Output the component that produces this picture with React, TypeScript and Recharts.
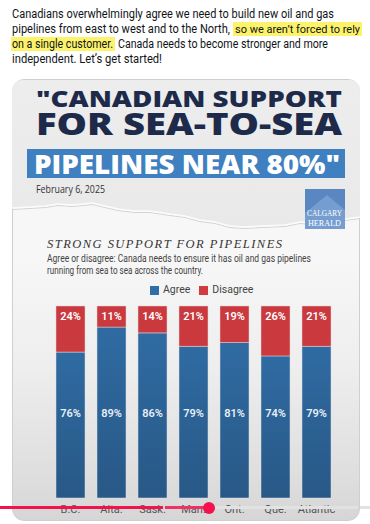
import React from "react";
import { Bar, BarChart, LabelList, Legend, XAxis, YAxis } from "recharts";

const regions = ["B.C.", "Alta.", "Sask.", "Man.", "Ont.", "Que.", "Atlantic"];
const agree = [76, 89, 86, 79, 81, 74, 79];
const disagree = [24, 11, 14, 21, 19, 26, 21];

const data = regions.map((region, i) => ({ region, agree: agree[i], disagree: disagree[i] }));

const RED = "#c9393e";
const NARROW = "'Liberation Sans Narrow', Roboto, 'Liberation Sans', sans-serif";

const tearEdge: [number, number][] = [
  [360, 217], [345, 219], [330, 221], [315, 223], [300, 222], [285, 225], [262, 226],
  [245, 227], [230, 226], [215, 222], [200, 220], [185, 216], [170, 214], [150, 211],
  [135, 211], [118, 209], [105, 206], [92, 203], [84, 204], [72, 205], [58, 204],
  [45, 206], [30, 207], [12, 208],
];

function RedLabel(props: any) {
  const { x, y, width, value } = props;
  return (
    <text x={x + width / 2} y={y + 14} textAnchor="middle" fill="#fff" fontSize={11} fontWeight={600} fontFamily={NARROW}>
      {value}%
    </text>
  );
}

function BlueLabel(props: any) {
  const { x, y, width, height, value } = props;
  return (
    <text x={x + width / 2} y={y + height - 81} textAnchor="middle" fill="#e9eff6" fontSize={11} fontWeight={600} fontFamily={NARROW}>
      {value}%
    </text>
  );
}

function LegendBox() {
  const item = (color: string, label: string, gap: number) => (
    <span style={{ display: "inline-flex", alignItems: "center", marginRight: gap }}>
      <span style={{ width: 9, height: 9, background: color, display: "inline-block", marginRight: 4 }} />
      <span style={{ fontSize: 10.5, color: "#444", fontFamily: NARROW }}>{label}</span>
    </span>
  );
  return (
    <div style={{ display: "flex", alignItems: "center", lineHeight: "12px" }}>
      {item("#2e6ea6", "Agree", 9)}
      {item("#d03a41", "Disagree", 0)}
    </div>
  );
}

export default function App() {
  const edgePts = tearEdge.map(([x, y]) => `${x},${y}`).join(" L");
  return (
    <div style={{ position: "absolute", left: 0, top: 0, width: 370, height: 524, overflow: "hidden", background: "#fff" }}>
      <div
        style={{
          position: "absolute",
          left: 12,
          top: 79,
          width: 348,
          height: 442,
          borderRadius: 12,
          border: "1px solid #cfcfcf",
          boxSizing: "border-box",
          background: "linear-gradient(to bottom, #f7f7f7 0%, #f7f7f7 40%, #eeeeee 65%, #dedede 90%, #d6d6d6 100%)",
        }}
      />
      <svg width={370} height={524} style={{ position: "absolute", left: 0, top: 0 }}>
        <rect x={233} y={22} width={129} height={14} fill="#fdf36a" />
        <rect x={11} y={37} width={104} height={14} fill="#fdf36a" />
        <g fontFamily="Roboto, 'Open Sans', sans-serif" fontSize={12} fill="#0f1419">
          <text x={12} y={17.5} textLength={322} lengthAdjust="spacingAndGlyphs">
            Canadians overwhelmingly agree we need to build new oil and gas
          </text>
          <text x={12} y={32.5} textLength={218} lengthAdjust="spacingAndGlyphs">
            pipelines from east to west and to the North,
          </text>
          <text x={235} y={32.5} fontSize={11} textLength={125} lengthAdjust="spacingAndGlyphs">
            so we aren’t forced to rely
          </text>
          <text x={12} y={47.5} textLength={101} lengthAdjust="spacingAndGlyphs">
            on a single customer.
          </text>
          <text x={118} y={47.5} textLength={210} lengthAdjust="spacingAndGlyphs">
            Canada needs to become stronger and more
          </text>
          <text x={12} y={62.5} textLength={150} lengthAdjust="spacingAndGlyphs">
            independent. Let’s get started!
          </text>
        </g>

        <defs>
          <linearGradient id="topPaper" x1="0" y1="0" x2="0" y2="1">
            <stop offset="0%" stopColor="#ededed" />
            <stop offset="100%" stopColor="#e9e9e9" />
          </linearGradient>
        </defs>
        <path d={`M12,92 Q12,80 24,80 L348,80 Q360,80 360,92 L${edgePts} Z`} fill="url(#topPaper)" />
        <path d={`M${tearEdge.map(([x, y]) => `${x},${y + 1.5}`).join(" L")}`} fill="none" stroke="#d4d4d4" strokeWidth={1} />
        <path d={`M${edgePts}`} fill="none" stroke="#fbfbfb" strokeWidth={1.6} />

        <g fontFamily="'Open Sans', Lato, sans-serif" fontWeight={800}>
          <text x={36} y={107} fontSize={23} fill="#1d2a4a" textLength={306} lengthAdjust="spacingAndGlyphs">
            "CANADIAN SUPPORT
          </text>
          <text x={36} y={135} fontSize={30} fill="#1d2a4a" textLength={306} lengthAdjust="spacingAndGlyphs">
            FOR SEA-TO-SEA
          </text>
          <rect x={27} y={149} width={318} height={29} fill="#3f80c0" />
          <text x={34} y={173.5} fontSize={26} fill="#ffffff" textLength={306} lengthAdjust="spacingAndGlyphs">
            PIPELINES NEAR 80%"
          </text>
        </g>
        <text x={36} y={193} fontSize={10.5} fill="#333" fontFamily="'Open Sans', sans-serif" textLength={69} lengthAdjust="spacingAndGlyphs">
          February 6, 2025
        </text>

        <rect x={305} y={189} width={40} height={40} fill="#5a86c2" />
        <polygon points="305,213 327,195 345,210 345,229 305,229" fill="#759dd0" />
        <g fontFamily="'Liberation Serif', 'DejaVu Serif', serif" fill="#ffffff" fontSize={8.5}>
          <text x={307} y={216} textLength={35} lengthAdjust="spacingAndGlyphs">CALGARY</text>
          <text x={308} y={225.5} textLength={33} lengthAdjust="spacingAndGlyphs">HERALD</text>
        </g>

        <text
          x={47}
          y={247.5}
          fontSize={12.5}
          fontStyle="italic"
          fill="#333"
          fontFamily="'Liberation Serif', 'DejaVu Serif', serif"
          textLength={235}
          lengthAdjust="spacing"
        >
          STRONG SUPPORT FOR PIPELINES
        </text>
        <g fontFamily={NARROW} fontSize={10} fill="#444">
          <text x={47} y={262} textLength={264} lengthAdjust="spacingAndGlyphs">
            Agree or disagree: Canada needs to ensure it has oil and gas pipelines
          </text>
          <text x={47} y={274} textLength={156} lengthAdjust="spacingAndGlyphs">
            running from sea to sea across the country.
          </text>
        </g>
      </svg>

      <div style={{ position: "absolute", left: 0, top: 280 }}>
        <BarChart width={370} height={244} data={data} margin={{ top: 26, right: 33, bottom: 0, left: 50 }} barSize={29}>
          <defs>
            <linearGradient id="blueFill" x1="0" y1="0" x2="0" y2="1">
              <stop offset="0%" stopColor="#2f6ba2" />
              <stop offset="100%" stopColor="#285886" />
            </linearGradient>
          </defs>
          <XAxis
            dataKey="region"
            height={26}
            axisLine={false}
            tickLine={false}
            tickMargin={1}
            interval={0}
            tick={{ fill: "#555", fontSize: 11, fontFamily: NARROW }}
          />
          <YAxis hide domain={[0, 100]} />
          <Legend
            verticalAlign="middle"
            align="center"
            layout="horizontal"
            wrapperStyle={{ top: 4, left: 150, width: "auto" }}
            content={() => <LegendBox />}
          />
          <Bar dataKey="agree" stackId="s" fill="url(#blueFill)" stroke="#d9dde2" strokeWidth={0.5} isAnimationActive={false}>
            <LabelList dataKey="agree" content={BlueLabel} />
          </Bar>
          <Bar dataKey="disagree" stackId="s" fill={RED} stroke="#e6d6d6" strokeWidth={0.5} isAnimationActive={false}>
            <LabelList dataKey="disagree" content={RedLabel} />
          </Bar>
        </BarChart>
      </div>

      <div style={{ position: "absolute", left: 0, top: 506, width: 163, height: 3, background: "#f5124c" }} />
      <div style={{ position: "absolute", left: 165, top: 506, width: 42, height: 3, background: "#f1306a" }} />
      <div style={{ position: "absolute", left: 212, top: 506, width: 146, height: 3, background: "#e2e2e2" }} />
      <div style={{ position: "absolute", left: 360, top: 506, width: 10, height: 3, background: "#e2e2e2" }} />
      <div style={{ position: "absolute", left: 203, top: 501.5, width: 12, height: 12, borderRadius: 6, background: "#f5124c" }} />
    </div>
  );
}
